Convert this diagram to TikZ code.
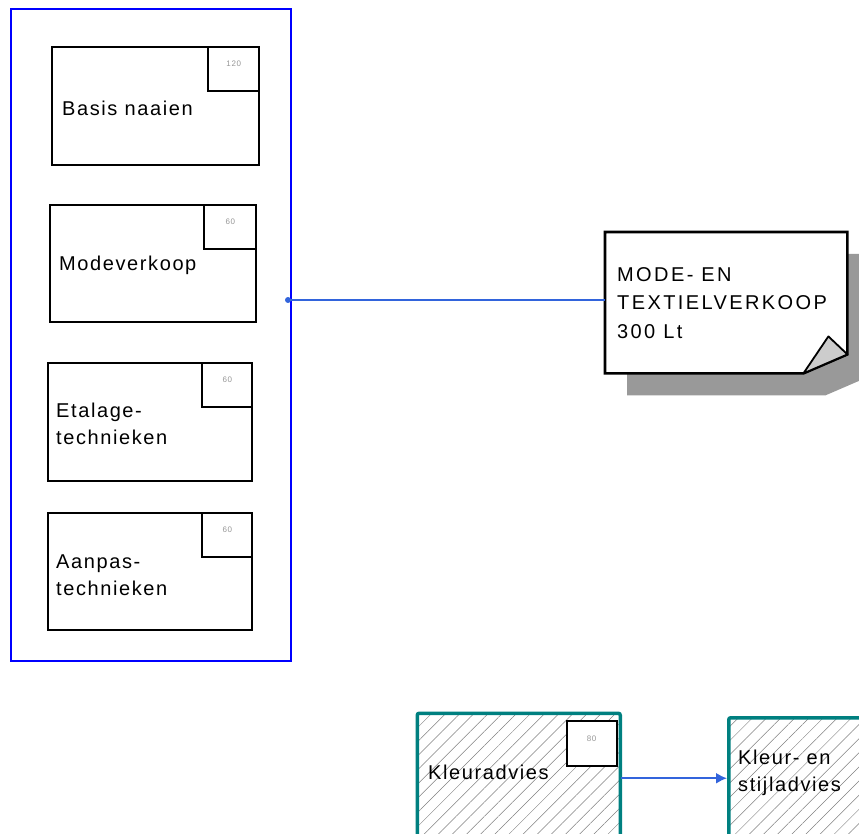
\documentclass[tikz,border=0pt]{standalone}
\usepackage{fontspec}
\setmainfont{Liberation Sans}[LetterSpace=8]
\newfontfamily\notefont{Liberation Sans}[LetterSpace=12]
\usetikzlibrary{patterns.meta,arrows.meta}
\definecolor{tealb}{RGB}{0,128,128}
\definecolor{conn}{RGB}{50,100,220}
\definecolor{numgray}{RGB}{150,150,150}
\begin{document}
\begin{tikzpicture}[x=1pt,y=-1pt,
  box/.style={draw, line width=2.2pt, rectangle, anchor=north west, inner sep=0pt},
  tag/.style={draw, line width=1.8pt, anchor=north east, inner sep=0pt},
  num/.style={font=\fontsize{8}{9}\selectfont, text=numgray, inner sep=0pt},
  lbl/.style={anchor=west, align=left, font=\fontsize{20}{27}\selectfont, inner sep=0pt},
  hatch/.style={draw=tealb, line width=3.5pt, rounded corners=2pt, anchor=north west, inner sep=0pt,
    pattern={Lines[angle=45,distance=10pt,line width=0.5pt]}, pattern color=gray},
  conline/.style={draw=conn, line width=1.8pt}]
\useasboundingbox (0,0) rectangle (859,834);
% group container
\node[draw=blue, line width=1.8pt, minimum width=280pt, minimum height=652pt, anchor=north west, inner sep=0pt] (grp) at (10,8) {};
% box 1
\node[box, minimum width=207pt, minimum height=118pt] (b1) at (51,46) {};
\node[tag, minimum width=51pt, minimum height=44pt] (t1) at (b1.north east) {};
\node[num] (n1) at ([yshift=5pt]t1.center) {120};
\node[lbl] (l1) at ([xshift=11pt,yshift=-2pt]b1.west) {Basis naaien};
% box 2
\node[box, minimum width=206pt, minimum height=117pt] (b2) at (49,204) {};
\node[tag, minimum width=52pt, minimum height=44pt] (t2) at (b2.north east) {};
\node[num] (n2) at ([yshift=5pt]t2.center) {60};
\node[lbl] (l2) at ([xshift=10pt,yshift=-2pt]b2.west) {Modeverkoop};
% box 3
\node[box, minimum width=204pt, minimum height=118pt] (b3) at (47,362) {};
\node[tag, minimum width=50pt, minimum height=44pt] (t3) at (b3.north east) {};
\node[num] (n3) at ([yshift=5pt]t3.center) {60};
\node[lbl] (l3) at ([xshift=9pt,yshift=-2pt]b3.west) {Etalage-\\technieken};
% box 4
\node[box, minimum width=204pt, minimum height=117pt] (b4) at (47,512) {};
\node[tag, minimum width=50pt, minimum height=44pt] (t4) at (b4.north east) {};
\node[num] (n4) at ([yshift=5pt]t4.center) {60};
\node[lbl] (l4) at ([xshift=9pt,yshift=-4pt]b4.west) {Aanpas-\\technieken};
% note
\node[anchor=north west, minimum width=242pt, minimum height=141pt, inner sep=0pt] (note) at (605,232) {};
\fill[gray!80] ([shift={(22,22)}]note.north west) -- ([shift={(22,22)}]note.north east)
  -- ([shift={(22,3)}]note.south east) -- ([shift={(-22,22)}]note.south east)
  -- ([shift={(22,22)}]note.south west) -- cycle;
\draw[line width=2.6pt, fill=white] (note.north west) -- (note.north east) -- ([yshift=19pt]note.south east)
  -- ([xshift=-44pt]note.south east) -- (note.south west) -- cycle;
\draw[line width=1.8pt, fill=gray!40, line join=round] ([xshift=-44pt]note.south east) -- ([xshift=-19pt,yshift=37pt]note.south east)
  -- ([yshift=19pt]note.south east) -- cycle;
\node[lbl, font=\notefont\fontsize{20}{28.5}\selectfont] (nt) at ([xshift=12pt]note.west) {MODE- EN\\TEXTIELVERKOOP\\300 Lt};
% connector
\node[circle, fill=conn, inner sep=0pt, minimum size=6pt] (dot) at (288,300) {};
\draw[conline] (dot.center) -- (dot.center -| note.west);
% bottom boxes
\node[hatch, minimum width=203pt, minimum height=130pt] (k1) at (417,713) {};
\node[tag, fill=white, minimum width=50pt, minimum height=45pt] (tk1) at ([xshift=-3pt,yshift=-7pt]k1.north east) {};
\node[num] (nk1) at ([yshift=5pt]tk1.center) {80};
\node[lbl] (lk1) at (428,772) {Kleuradvies};
\node[hatch, minimum width=150pt, minimum height=130pt] (k2) at (727,716) {};
\node[lbl] (lk2) at (738,773) {Kleur- en\\stijladvies};
\draw[conline, -{Latex[length=11pt,width=11pt]}] (k1.east) -- (k1.east -| k2.west);
\end{tikzpicture}
\end{document}
